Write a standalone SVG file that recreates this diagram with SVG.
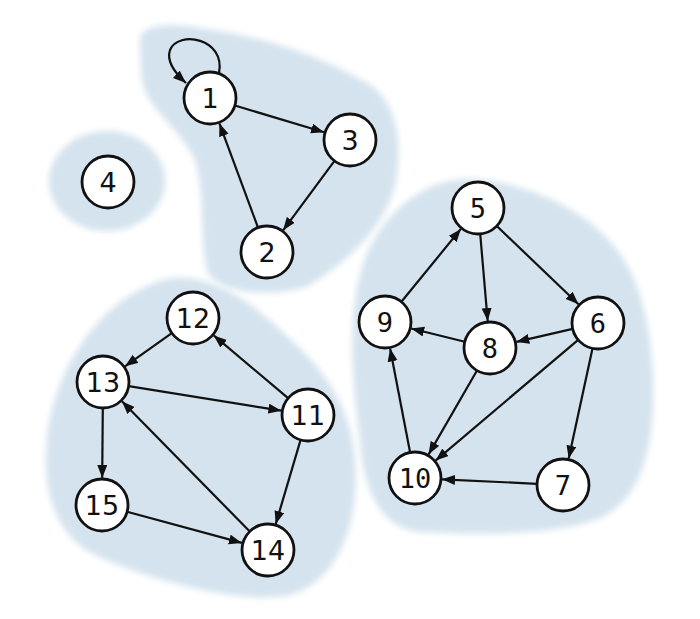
<svg xmlns="http://www.w3.org/2000/svg" width="700" height="619" viewBox="0 0 700 619">
<style>
.blob{fill:#d4e3ee;filter:url(#soft)}
.node circle{fill:#fff;stroke:#111;stroke-width:2.8}
.node text{font-size:27px;fill:#111;text-anchor:middle;dominant-baseline:central}
.sans text{font-family:"DejaVu Sans","Liberation Sans",sans-serif}
.mono text{font-family:"DejaVu Sans Mono","Liberation Mono",monospace}
.edges path,.edges line{stroke:#111;stroke-width:2.2;fill:none;marker-end:url(#arr)}
</style>
<defs>
<filter id="soft" x="-10%" y="-10%" width="120%" height="120%"><feGaussianBlur stdDeviation="3"/></filter>
<marker id="arr" markerUnits="userSpaceOnUse" markerWidth="14" markerHeight="11" refX="13" refY="5" orient="auto"><path d="M0,0 L13,5 L0,10 Z" fill="#111"/></marker>
</defs>
<rect width="700" height="619" fill="#fff"/>
<g id="regions">
<path class="blob" d="M140,43 C138,25 165,22 200,28 C260,36 320,55 370,85 C400,105 402,150 395,185 C385,225 350,260 310,285 C280,298 215,295 207,270 C200,240 205,190 195,160 C185,135 150,110 143,85 C140,70 141,55 140,43 Z"/>
<ellipse class="blob" cx="107" cy="181" rx="58" ry="50"/>
<path class="blob" d="M150,285 C190,265 240,290 280,330 C320,365 350,400 355,460 C360,520 340,580 290,595 C240,605 150,580 95,555 C55,535 42,490 47,440 C52,380 90,310 150,285 Z"/>
<path class="blob" d="M457,180 C500,175 580,200 617,250 C645,285 655,350 653,403 C652,450 640,500 600,518 C560,535 480,535 420,532 C385,528 365,500 360,440 C352,380 348,320 360,275 C370,230 410,185 457,180 Z"/>
</g>
<g id="edges" class="edges">
<path d="M219,73 C226,38 178,30 170,50 C166,62 176,74 186,83"/>
<line x1="234.9" y1="105.5" x2="324.1" y2="132.3"/>
<line x1="334.5" y1="160.9" x2="283.1" y2="230.3"/>
<line x1="258.0" y1="227.6" x2="219.4" y2="123.3"/>
<line x1="480.2" y1="233.9" x2="487.7" y2="321.1"/>
<line x1="496.8" y1="226.0" x2="578.5" y2="304.3"/>
<line x1="401.4" y1="301.8" x2="460.9" y2="228.9"/>
<line x1="464.8" y1="341.8" x2="411.2" y2="328.5"/>
<line x1="572.7" y1="328.9" x2="516.3" y2="341.9"/>
<line x1="578.2" y1="339.8" x2="435.6" y2="460.6"/>
<line x1="477.0" y1="370.5" x2="428.5" y2="454.6"/>
<line x1="592.5" y1="348.4" x2="568.7" y2="458.6"/>
<line x1="537.0" y1="483.8" x2="442.0" y2="479.3"/>
<line x1="410.1" y1="452.5" x2="390.1" y2="348.5"/>
<line x1="171.8" y1="333.1" x2="125.0" y2="366.3"/>
<line x1="288.1" y1="398.2" x2="213.7" y2="335.4"/>
<line x1="128.7" y1="386.1" x2="281.4" y2="410.7"/>
<line x1="102.8" y1="408" x2="102.2" y2="478"/>
<line x1="249.8" y1="531.5" x2="121.9" y2="401.3"/>
<line x1="300.6" y1="439.9" x2="275.7" y2="524.1"/>
<line x1="127.1" y1="511.8" x2="241.9" y2="542.9"/>
</g>
<g id="n1" class="node sans"><circle cx="210" cy="98" r="26"/><text x="210" y="98">1</text></g>
<g id="n2" class="node sans"><circle cx="267" cy="252" r="26"/><text x="267" y="252">2</text></g>
<g id="n3" class="node sans"><circle cx="350" cy="140" r="26"/><text x="350" y="140">3</text></g>
<g id="n4" class="node sans"><circle cx="108" cy="182" r="26"/><text x="108" y="182">4</text></g>
<g id="n5" class="node mono"><circle cx="478" cy="208" r="26"/><text x="478" y="208">5</text></g>
<g id="n6" class="node mono"><circle cx="598" cy="323" r="26"/><text x="598" y="323">6</text></g>
<g id="n7" class="node mono"><circle cx="563" cy="485" r="26"/><text x="563" y="485">7</text></g>
<g id="n8" class="node mono"><circle cx="490" cy="348" r="26"/><text x="490" y="348">8</text></g>
<g id="n9" class="node mono"><circle cx="385" cy="322" r="26"/><text x="385" y="322">9</text></g>
<g id="n10" class="node mono"><circle cx="415" cy="478" r="26"/><text x="415" y="478">10</text></g>
<g id="n11" class="node sans"><circle cx="308" cy="415" r="26"/><text x="308" y="415">11</text></g>
<g id="n12" class="node sans"><circle cx="193" cy="318" r="26"/><text x="193" y="318">12</text></g>
<g id="n13" class="node sans"><circle cx="103" cy="382" r="26"/><text x="103" y="382">13</text></g>
<g id="n14" class="node sans"><circle cx="268" cy="550" r="26"/><text x="268" y="550">14</text></g>
<g id="n15" class="node sans"><circle cx="102" cy="505" r="26"/><text x="102" y="505">15</text></g>
</svg>
